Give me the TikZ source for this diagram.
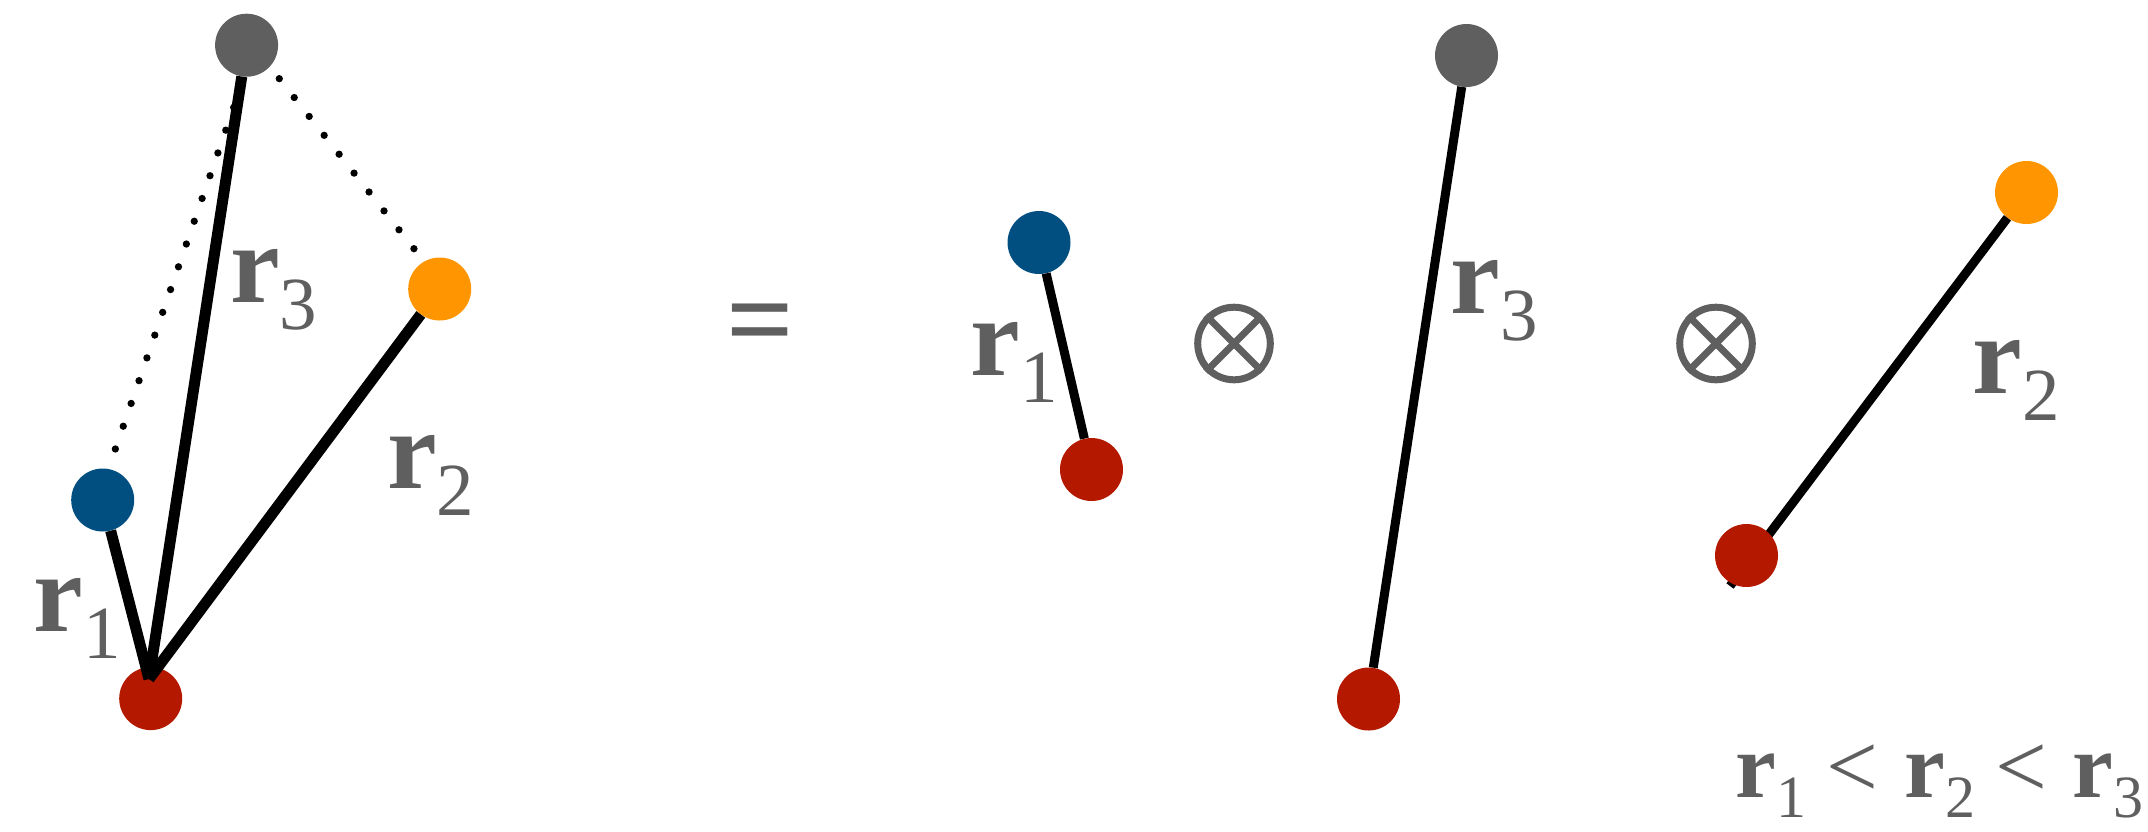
\documentclass[tikz,border=0pt]{standalone}
\usepackage{fontspec}
\setmainfont{Liberation Serif}
\usetikzlibrary{calc}
\definecolor{tgray}{HTML}{5F5F5F}
\definecolor{nblue}{HTML}{014F80}
\definecolor{norange}{HTML}{FF9500}
\definecolor{nred}{HTML}{B41900}
\definecolor{ngray}{HTML}{5F5F5F}
\newcommand{\rlab}[1]{{\fontsize{112}{112}\selectfont\bfseries r}\raisebox{-27pt}{\fontsize{75}{75}\selectfont #1}}
\newcommand{\rsm}[1]{{\fontsize{92}{92}\selectfont\bfseries r}\raisebox{-20pt}[\height][0pt]{\fontsize{60}{60}\selectfont #1}}
\begin{document}
\begin{tikzpicture}[x=1pt,y=-1pt,
  ball/.style={circle, inner sep=0pt, minimum size=63pt},
  bond/.style={line width=11pt},
  bondR/.style={line width=9pt},
  dotline/.style={line width=7.3pt, line cap=round, dash pattern=on 0pt off 24.1pt},
  lab/.style={anchor=base west, inner sep=0pt, text=tgray},
  otimesbox/.style={circle, draw=tgray, line width=7pt, minimum size=72.6pt, inner sep=0pt},
  otx/.style={draw=tgray, line width=7pt}]
\useasboundingbox (0,0) rectangle (2148,831);
% left figure
\node[ball, fill=ngray] (gA) at (246.6,45.2) {};
\node[ball, fill=norange] (oA) at (439.7,289) {};
\node[ball, fill=nblue] (bA) at (102.7,500) {};
\node[ball, fill=nred] (rA) at (150.7,698.6) {};
\coordinate (jA) at (149,679);
\draw[dotline, shorten <=54pt, shorten >=43.4pt] ($(bA.center)+(-5,0)$) -- ($(gA.center)+(8.6,0)$);
\draw[dotline, shorten <=46.5pt, shorten >=47.5pt] ($(gA.center)+(3.8,-3)$) -- ($(oA.center)+(3.8,-3)$);
\draw[bond] (jA) -- (bA);
\draw[bond] (jA) -- (gA);
\draw[bond] (jA) -- (oA);
\node[lab] (l3A) at (229.8,302) {\rlab{3}};
\node[lab] (l2A) at (386.8,488) {\rlab{2}};
\node[lab] (l1A) at (33.8,631) {\rlab{1}};
% equals
\node[lab] (eq) at (726.4,359.5) {\fontsize{119}{119}\selectfont\bfseries =};
% r1 part
\node[ball, fill=nblue] (bB) at (1039,242.5) {};
\node[ball, fill=nred] (rB) at (1091.5,469.5) {};
\draw[bondR] (bB) -- (rB);
\node[lab] (l1B) at (970.5,375) {\rlab{1}};
% otimes 1
\node[otimesbox] (ot1) at (1234,343.5) {};
\draw[otx] (ot1.north west) -- (ot1.south east);
\draw[otx] (ot1.north east) -- (ot1.south west);
% r3 part
\node[ball, fill=ngray] (gC) at (1466.5,55.5) {};
\node[ball, fill=nred] (rC) at (1368.5,699) {};
\draw[bondR] (gC) -- (rC);
\node[lab] (l3C) at (1450.6,313) {\rlab{3}};
% otimes 2
\node[otimesbox] (ot2) at (1716,343.5) {};
\draw[otx] (ot2.north west) -- (ot2.south east);
\draw[otx] (ot2.north east) -- (ot2.south west);
% r2 part
\node[ball, fill=norange] (oD) at (2026.5,192.5) {};
\coordinate (tD) at (1730,586);
\draw[bondR] (oD) -- (tD);
\node[ball, fill=nred] (rD) at (1746.5,555.5) {};
\node[lab] (l2D) at (1972.3,393) {\rlab{2}};
% inequality
\node[lab] (ineq) at (1735.3,797) {\rsm{1}\hspace{20pt}{\fontsize{92}{92}\selectfont <}\hspace{26pt}\rsm{2}\hspace{20pt}{\fontsize{92}{92}\selectfont <}\hspace{26pt}\rsm{3}};
\end{tikzpicture}
\end{document}
